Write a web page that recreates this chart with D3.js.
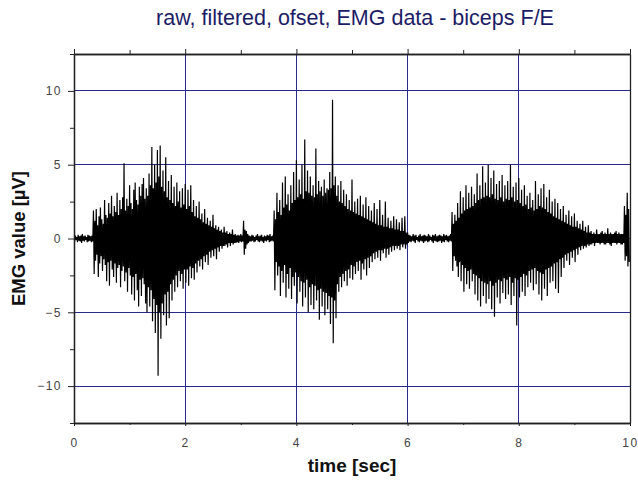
<!DOCTYPE html>
<html>
<head>
<meta charset="utf-8">
<script src="https://cdn.jsdelivr.net/npm/d3@7"></script>
<style>
  body { margin: 0; background: #fff; }
  text { font-family: Arial, "Liberation Sans", sans-serif; }
</style>
</head>
<body>
<div id="chart-area"></div>
<script>
// sample spacing of the envelope readings (sec)
const sampleStep = 0.025;

// positive peak in each 0.025 s window, one row per second
const upperPeaks = [
  0.15, 0.2, 0.1, 0.25, 0.15, 0.2, 0.3, 0.15, 0.2, 0.1, 0.25, 0.2, 0.15, 0.2, 1.9, 1.2, 2.0, 0.9, 1.5, 2.1,
  1.3, 1.0, 2.6, 1.6, 1.4, 2.4, 1.7, 2.9, 1.5, 2.2, 1.8, 3.1, 1.6, 2.6, 2.0, 2.8, 5.1, 1.9, 2.7, 2.2,

  3.6, 2.4, 2.0, 3.3, 3.8, 2.6, 2.3, 3.5, 2.9, 3.7, 4.1, 2.7, 3.4, 2.9, 4.4, 3.6, 6.2, 3.4, 5.0, 3.8,
  6.0, 4.2, 6.3, 3.5, 4.6, 3.2, 5.5, 2.8, 3.9, 2.6, 4.3, 2.4, 3.5, 2.2, 3.8, 2.5, 3.2, 2.1, 3.4, 2.3,

  3.7, 2.0, 3.3, 2.2, 3.6, 1.8, 2.6, 1.5, 2.2, 1.4, 2.5, 1.3, 1.7, 1.1, 2.0, 1.0, 1.4, 0.9, 1.2, 0.8,
  1.6, 0.7, 0.9, 0.6, 0.8, 0.5, 0.6, 0.4, 0.8, 0.4, 0.5, 0.3, 0.4, 0.3, 0.6, 0.25, 0.3, 0.2, 0.25, 0.2,

  0.3, 0.2, 1.2, 0.6, 0.5, 0.3, 0.2, 0.15, 0.25, 0.2, 0.1, 0.2, 0.3, 0.15, 0.2, 0.25, 0.1, 0.2, 0.15, 0.25,
  0.2, 0.3, 0.15, 0.2, 1.9, 1.3, 3.1, 1.8, 2.6, 1.6, 3.8, 2.1, 4.2, 2.3, 3.0, 1.9, 3.6, 2.4, 4.5, 2.6,

  5.3, 2.8, 4.0, 3.0, 5.0, 2.7, 6.7, 3.2, 4.6, 3.1, 4.2, 2.9, 3.6, 2.8, 6.1, 3.0, 3.9, 3.2, 3.5, 2.9,
  4.0, 3.1, 3.4, 3.3, 4.5, 3.4, 9.4, 3.6, 4.2, 2.9, 3.6, 2.5, 3.9, 2.4, 3.3, 2.2, 3.0, 2.0, 2.6, 1.9,

  4.0, 1.8, 2.5, 1.7, 2.7, 1.6, 2.9, 1.5, 2.3, 1.4, 2.8, 1.3, 2.2, 1.2, 1.9, 1.1, 2.4, 1.0, 2.0, 0.9,
  2.6, 0.9, 1.6, 0.8, 2.5, 0.8, 1.4, 0.7, 1.2, 0.7, 1.5, 0.6, 1.3, 0.6, 1.1, 0.5, 1.4, 0.5, 1.5, 0.4,

  0.4, 0.25, 0.2, 0.15, 0.3, 0.2, 0.25, 0.1, 0.2, 0.3, 0.15, 0.2, 0.25, 0.2, 0.15, 0.3, 0.2, 0.1, 0.25, 0.2,
  0.3, 0.15, 0.2, 0.25, 0.2, 0.15, 0.3, 0.2, 0.25, 0.15, 0.2, 0.3, 1.8, 1.0, 1.6, 1.2, 2.4, 1.4, 3.2, 1.7,

  2.8, 1.9, 3.6, 2.0, 3.1, 2.1, 3.5, 2.2, 3.0, 2.4, 4.4, 2.6, 3.6, 2.7, 4.9, 2.8, 3.8, 2.9, 5.0, 2.8,
  4.1, 3.0, 4.6, 2.7, 3.7, 2.6, 3.9, 2.8, 4.3, 2.5, 3.6, 2.7, 3.9, 2.6, 5.0, 2.8, 3.5, 2.5, 3.8, 2.6,

  4.1, 2.4, 3.3, 2.2, 3.6, 2.3, 2.9, 2.0, 3.1, 2.1, 2.6, 1.9, 3.9, 2.0, 3.0, 2.2, 3.4, 2.1, 3.7, 2.0,
  2.8, 1.8, 3.3, 1.7, 2.5, 1.5, 2.7, 1.4, 2.4, 1.3, 2.0, 1.2, 2.2, 1.1, 1.6, 1.0, 1.9, 0.9, 1.5, 0.8,

  1.7, 0.8, 1.2, 0.7, 1.0, 0.6, 1.2, 0.5, 0.8, 0.4, 0.9, 0.4, 0.5, 0.3, 0.4, 0.3, 0.6, 0.3, 0.3, 0.4,
  0.5, 0.3, 0.4, 0.3, 0.7, 0.3, 0.4, 0.3, 0.3, 0.4, 0.5, 0.3, 0.4, 0.3, 0.3, 0.3, 2.2, 1.6, 3.1, 2.0
];

// negative peak in each window (taken half a step later)
const lowerPeaks = [
  -0.2, -0.1, -0.25, -0.15, -0.2, -0.3, -0.15, -0.2, -0.1, -0.25, -0.2, -0.15, -0.25, -0.2, -2.4, -1.5, -1.1, -2.6, -1.7, -1.2,
  -2.2, -1.4, -1.8, -2.9, -1.6, -3.2, -1.5, -2.1, -2.6, -1.7, -3.0, -2.0, -1.8, -3.3, -2.2, -1.9, -2.9, -2.3, -3.6, -2.0,

  -2.5, -3.8, -2.6, -4.2, -2.4, -3.5, -4.6, -2.8, -3.9, -2.7, -3.1, -4.4, -5.0, -3.3, -4.6, -3.5, -5.6, -4.1, -6.4, -4.5,
  -9.3, -5.0, -6.8, -4.4, -5.2, -3.8, -5.9, -3.6, -5.4, -3.1, -4.2, -2.8, -3.6, -2.5, -3.3, -2.2, -2.9, -2.4, -3.4, -2.1,

  -3.0, -2.1, -3.2, -1.9, -2.7, -2.0, -2.8, -1.7, -2.3, -1.5, -1.9, -1.4, -2.1, -1.2, -1.6, -1.1, -1.8, -0.9, -1.3, -0.8,
  -1.2, -0.7, -1.4, -0.6, -0.9, -0.5, -0.7, -0.5, -0.5, -0.4, -0.6, -0.3, -0.5, -0.3, -0.4, -0.3, -0.3, -0.25, -0.3, -0.2,

  -0.25, -0.2, -1.1, -0.7, -0.4, -0.3, -0.2, -0.2, -0.15, -0.25, -0.2, -0.1, -0.2, -0.25, -0.15, -0.2, -0.3, -0.15, -0.2, -0.1,
  -0.25, -0.2, -0.15, -0.2, -3.5, -1.6, -2.5, -1.9, -3.9, -2.2, -3.0, -1.8, -4.0, -2.4, -3.4, -2.0, -4.1, -2.6, -3.2, -2.3,

  -4.4, -2.6, -3.6, -2.9, -4.6, -3.0, -4.0, -2.8, -5.0, -3.3, -4.5, -3.1, -4.8, -3.2, -4.2, -3.5, -5.5, -3.4, -4.6, -3.6,
  -5.2, -3.7, -4.8, -3.9, -5.8, -4.0, -7.1, -4.2, -5.4, -3.1, -3.6, -2.6, -3.3, -2.4, -2.9, -2.2, -3.2, -2.1, -2.7, -1.8,

  -2.8, -1.9, -2.4, -1.6, -2.2, -1.5, -2.8, -1.7, -2.1, -1.4, -2.5, -1.3, -2.0, -1.2, -1.6, -1.0, -1.4, -0.9, -1.3, -0.8,
  -1.5, -0.8, -1.0, -0.7, -1.3, -0.7, -1.1, -0.6, -0.9, -0.5, -0.8, -0.5, -0.7, -0.5, -0.8, -0.4, -0.6, -0.4, -0.7, -0.4,

  -0.3, -0.2, -0.25, -0.15, -0.2, -0.3, -0.1, -0.2, -0.25, -0.15, -0.2, -0.3, -0.2, -0.15, -0.25, -0.2, -0.1, -0.2, -0.3, -0.15,
  -0.2, -0.25, -0.2, -0.15, -0.3, -0.2, -0.25, -0.1, -0.2, -0.25, -0.15, -0.2, -2.2, -1.2, -1.5, -1.9, -2.6, -1.6, -2.9, -1.8,

  -3.6, -2.0, -3.1, -2.2, -3.4, -2.1, -2.9, -2.4, -3.8, -2.5, -4.2, -2.7, -4.6, -2.9, -3.9, -3.0, -4.4, -3.1, -4.1, -2.9,
  -4.8, -3.2, -5.3, -3.0, -4.0, -2.8, -4.4, -2.9, -3.7, -2.7, -4.1, -2.8, -3.8, -2.6, -4.5, -3.0, -3.9, -2.7, -5.9, -2.8,

  -4.0, -2.6, -3.6, -2.4, -3.9, -2.5, -3.3, -2.2, -3.0, -2.1, -3.5, -2.0, -3.1, -2.2, -3.8, -2.3, -4.2, -2.4, -3.4, -2.1,
  -3.9, -2.0, -3.0, -1.9, -2.9, -1.7, -3.4, -1.6, -3.7, -1.4, -2.6, -1.3, -2.0, -1.1, -1.5, -1.0, -1.8, -0.9, -1.3, -0.8,

  -1.6, -0.7, -1.1, -0.6, -0.8, -0.5, -0.7, -0.5, -0.6, -0.4, -0.5, -0.4, -0.4, -0.3, -0.5, -0.3, -0.3, -0.3, -0.4, -0.3,
  -0.3, -0.4, -0.4, -0.3, -0.3, -0.4, -0.5, -0.3, -0.3, -0.3, -0.4, -0.3, -0.3, -0.4, -0.4, -0.3, -1.5, -1.2, -1.9, -1.6
];

const xMajor = [0, 2, 4, 6, 8, 10];
const xMinor = [1, 3, 5, 7, 9];
const yMajor = [-10, -5, 0, 5, 10];
const yMinor = [-12.5, -7.5, -2.5, 2.5, 7.5, 12.5];

const widthSvg = 638;
const heightSvg = 480;
const plot = { left: 74, right: 630, top: 54, bottom: 423 };
const gridColor = '#2a2a8a';
const axisColor = '#222';

const svg = d3.select('#chart-area').append('svg')
  .attr('width', widthSvg)
  .attr('height', heightSvg);

const x = d3.scaleLinear().domain([0, 10]).range([plot.left, plot.right]);
const y = d3.scaleLinear().domain([-12.5, 12.5]).range([plot.bottom, plot.top]);

// grid
svg.append('g').selectAll('line')
  .data(xMajor.filter(d => d > 0 && d < 10))
  .join('line')
    .attr('x1', d => x(d)).attr('x2', d => x(d))
    .attr('y1', plot.top).attr('y2', plot.bottom)
    .attr('stroke', gridColor)
    .attr('stroke-width', 1)
    .attr('shape-rendering', 'crispEdges');

svg.append('g').selectAll('line')
  .data(yMajor)
  .join('line')
    .attr('x1', plot.left).attr('x2', plot.right)
    .attr('y1', d => y(d)).attr('y2', d => y(d))
    .attr('stroke', gridColor)
    .attr('stroke-width', 1)
    .attr('shape-rendering', 'crispEdges');

// signal: alternate positive and negative peaks
const points = [];
upperPeaks.forEach((v, i) => {
  points.push([i * sampleStep, v]);
  points.push([i * sampleStep + sampleStep / 2, lowerPeaks[i]]);
});

svg.append('defs').append('clipPath').attr('id', 'clip')
  .append('rect')
    .attr('x', plot.left).attr('y', plot.top)
    .attr('width', plot.right - plot.left)
    .attr('height', plot.bottom - plot.top);

svg.append('path')
  .datum(points)
  .attr('clip-path', 'url(#clip)')
  .attr('fill', 'none')
  .attr('stroke', '#000')
  .attr('stroke-width', 1.2)
  .attr('d', d3.line().x(d => x(d[0])).y(d => y(d[1])));

// axes
const styleAxis = g => {
  g.select('.domain').attr('stroke', axisColor).attr('stroke-width', 1.3);
  g.selectAll('.tick line').attr('stroke', axisColor);
  g.selectAll('.tick text')
    .attr('fill', '#444')
    .attr('font-size', '12px')
    .attr('letter-spacing', '1.5px');
};

svg.append('g')
  .attr('transform', `translate(0, ${plot.bottom})`)
  .call(d3.axisBottom(x).tickValues(xMajor).tickSize(3).tickSizeOuter(0).tickPadding(12).tickFormat(d3.format('d')))
  .call(styleAxis);

svg.append('g')
  .attr('transform', `translate(0, ${plot.bottom})`)
  .call(d3.axisBottom(x).tickValues(xMinor).tickSize(2).tickSizeOuter(0).tickFormat(''))
  .call(styleAxis);

svg.append('g')
  .attr('transform', `translate(0, ${plot.top})`)
  .call(d3.axisTop(x).tickValues(xMajor).tickSize(5).tickSizeOuter(0).tickFormat(''))
  .call(styleAxis);

svg.append('g')
  .attr('transform', `translate(0, ${plot.top})`)
  .call(d3.axisTop(x).tickValues(xMinor).tickSize(4).tickSizeOuter(0).tickFormat(''))
  .call(styleAxis);

svg.append('g')
  .attr('transform', `translate(${plot.left}, 0)`)
  .call(d3.axisLeft(y).tickValues(yMajor).tickSize(6).tickSizeOuter(0).tickPadding(6).tickFormat(d3.format('d')))
  .call(styleAxis);

svg.append('g')
  .attr('transform', `translate(${plot.left}, 0)`)
  .call(d3.axisLeft(y).tickValues(yMinor).tickSize(4).tickSizeOuter(0).tickFormat(''))
  .call(styleAxis);

svg.append('g')
  .attr('transform', `translate(${plot.right}, 0)`)
  .call(d3.axisRight(y).tickValues([]).tickSizeOuter(0))
  .call(styleAxis);

// titles
svg.append('text')
  .text('raw, filtered, ofset, EMG data - biceps F/E')
    .attr('x', 355)
    .attr('y', 25)
    .attr('text-anchor', 'middle')
    .attr('font-size', '21.5px')
    .attr('fill', '#1c1c66');

svg.append('text')
  .text('time [sec]')
    .attr('x', 352)
    .attr('y', 472)
    .attr('text-anchor', 'middle')
    .attr('font-size', '19px')
    .attr('font-weight', 'bold')
    .attr('fill', '#111');

svg.append('text')
  .text('EMG value [\u00b5V]')
    .attr('transform', `translate(25, ${y(0)})rotate(-90)`)
    .attr('text-anchor', 'middle')
    .attr('font-size', '18.5px')
    .attr('font-weight', 'bold')
    .attr('fill', '#111');
</script>
</body>
</html>
